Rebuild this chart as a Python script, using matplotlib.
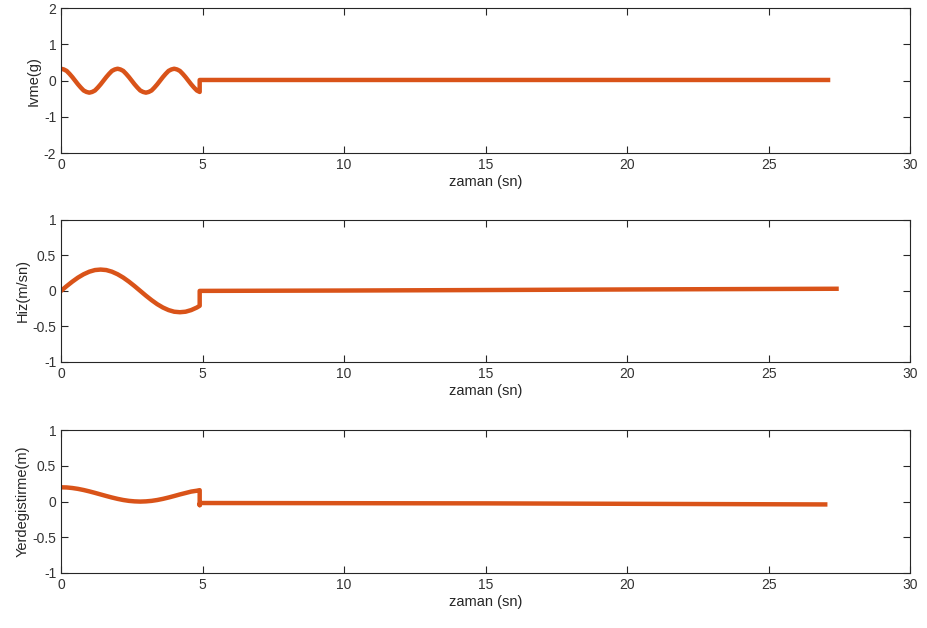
import matplotlib
matplotlib.use("Agg")
import matplotlib.pyplot as plt

plt.rcParams['font.family'] = ['Liberation Sans', 'DejaVu Sans']
plt.rcParams['axes.unicode_minus'] = False

# ivme: ilk 5 saniye, 0.1 sn araliklarla okunan degerler
ivme_t = [0.0, 0.1, 0.2, 0.3, 0.4, 0.5, 0.6, 0.7, 0.8, 0.9,
          1.0, 1.1, 1.2, 1.3, 1.4, 1.5, 1.6, 1.7, 1.8, 1.9,
          2.0, 2.1, 2.2, 2.3, 2.4, 2.5, 2.6, 2.7, 2.8, 2.9,
          3.0, 3.1, 3.2, 3.3, 3.4, 3.5, 3.6, 3.7, 3.8, 3.9,
          4.0, 4.1, 4.2, 4.3, 4.4, 4.5, 4.6, 4.7, 4.8, 4.9,
          4.9, 27.1]
ivme = [0.33, 0.31, 0.27, 0.19, 0.10, 0.0, -0.10, -0.19, -0.27, -0.31,
        -0.33, -0.31, -0.27, -0.19, -0.10, 0.0, 0.10, 0.19, 0.27, 0.31,
        0.33, 0.31, 0.27, 0.19, 0.10, 0.0, -0.10, -0.19, -0.27, -0.31,
        -0.33, -0.31, -0.27, -0.19, -0.10, 0.0, 0.10, 0.19, 0.27, 0.31,
        0.33, 0.31, 0.27, 0.19, 0.10, 0.0, -0.10, -0.19, -0.27, -0.31,
        0.02, 0.02]

# hiz ve yerdegistirme: 0.2 sn araliklar
t_seg = [0.0, 0.2, 0.4, 0.6, 0.8, 1.0, 1.2, 1.4, 1.6, 1.8, 2.0, 2.2, 2.4,
         2.6, 2.8, 3.0, 3.2, 3.4, 3.6, 3.8, 4.0, 4.2, 4.4, 4.6, 4.8, 4.9]

hiz_seg = [0.0, 0.067, 0.13, 0.187, 0.234, 0.27, 0.293, 0.30, 0.293, 0.27,
           0.234, 0.187, 0.13, 0.067, 0.0, -0.067, -0.13, -0.187, -0.234,
           -0.27, -0.293, -0.30, -0.293, -0.27, -0.234, -0.21]
hiz_t_son = [4.9, 4.9, 10.0, 15.0, 20.0, 27.4]
hiz_son = [0.0, 0.0, 0.005, 0.012, 0.02, 0.03]

yer_seg = [0.20, 0.198, 0.19, 0.178, 0.162, 0.143, 0.122, 0.10, 0.078, 0.057,
           0.038, 0.022, 0.01, 0.003, 0.0, 0.003, 0.01, 0.022, 0.038, 0.057,
           0.078, 0.10, 0.12, 0.14, 0.152, 0.16]
yer_t_son = [4.9, 4.9, 4.95, 15.0, 27.0]
yer_son = [-0.05, -0.03, -0.02, -0.025, -0.04]

renk = '#D95319'
koyu = '#262626'

fig = plt.figure(figsize=(9.27, 6.28), dpi=100)
konumlar = [[0.0658, 0.756, 0.916, 0.231],
            [0.0658, 0.4236, 0.916, 0.2264],
            [0.0658, 0.0876, 0.916, 0.2274]]
veriler = [
    (ivme_t, ivme, 'Ivme(g)', (-2, 2), [-2, -1, 0, 1, 2]),
    (t_seg + hiz_t_son, hiz_seg + hiz_son, 'Hiz(m/sn)', (-1, 1), [-1, -0.5, 0, 0.5, 1]),
    (t_seg + yer_t_son, yer_seg + yer_son, 'Yerdegistirme(m)', (-1, 1), [-1, -0.5, 0, 0.5, 1]),
]

for pos, (x, y, etiket, ylim, yt) in zip(konumlar, veriler):
    ax = fig.add_axes(pos)
    ax.plot(x, y, color=renk, linewidth=3.2, solid_joinstyle='round')
    ax.set_xlim(0, 30)
    ax.set_ylim(*ylim)
    ax.set_xticks([0, 5, 10, 15, 20, 25, 30])
    ax.set_yticks(yt)
    ax.set_yticklabels([('%g' % v) for v in yt])
    ax.tick_params(direction='in', top=True, right=True, length=5,
                   labelsize=10, colors=koyu, labelcolor='#333333', width=0.8)
    for s in ax.spines.values():
        s.set_color(koyu)
        s.set_linewidth(0.8)
    ax.set_xlabel('zaman (sn)', fontsize=10.5, color=koyu, labelpad=2)
    ax.set_ylabel(etiket, fontsize=10.5, color=koyu, labelpad=2)

fig.savefig('out.png', dpi=100)
